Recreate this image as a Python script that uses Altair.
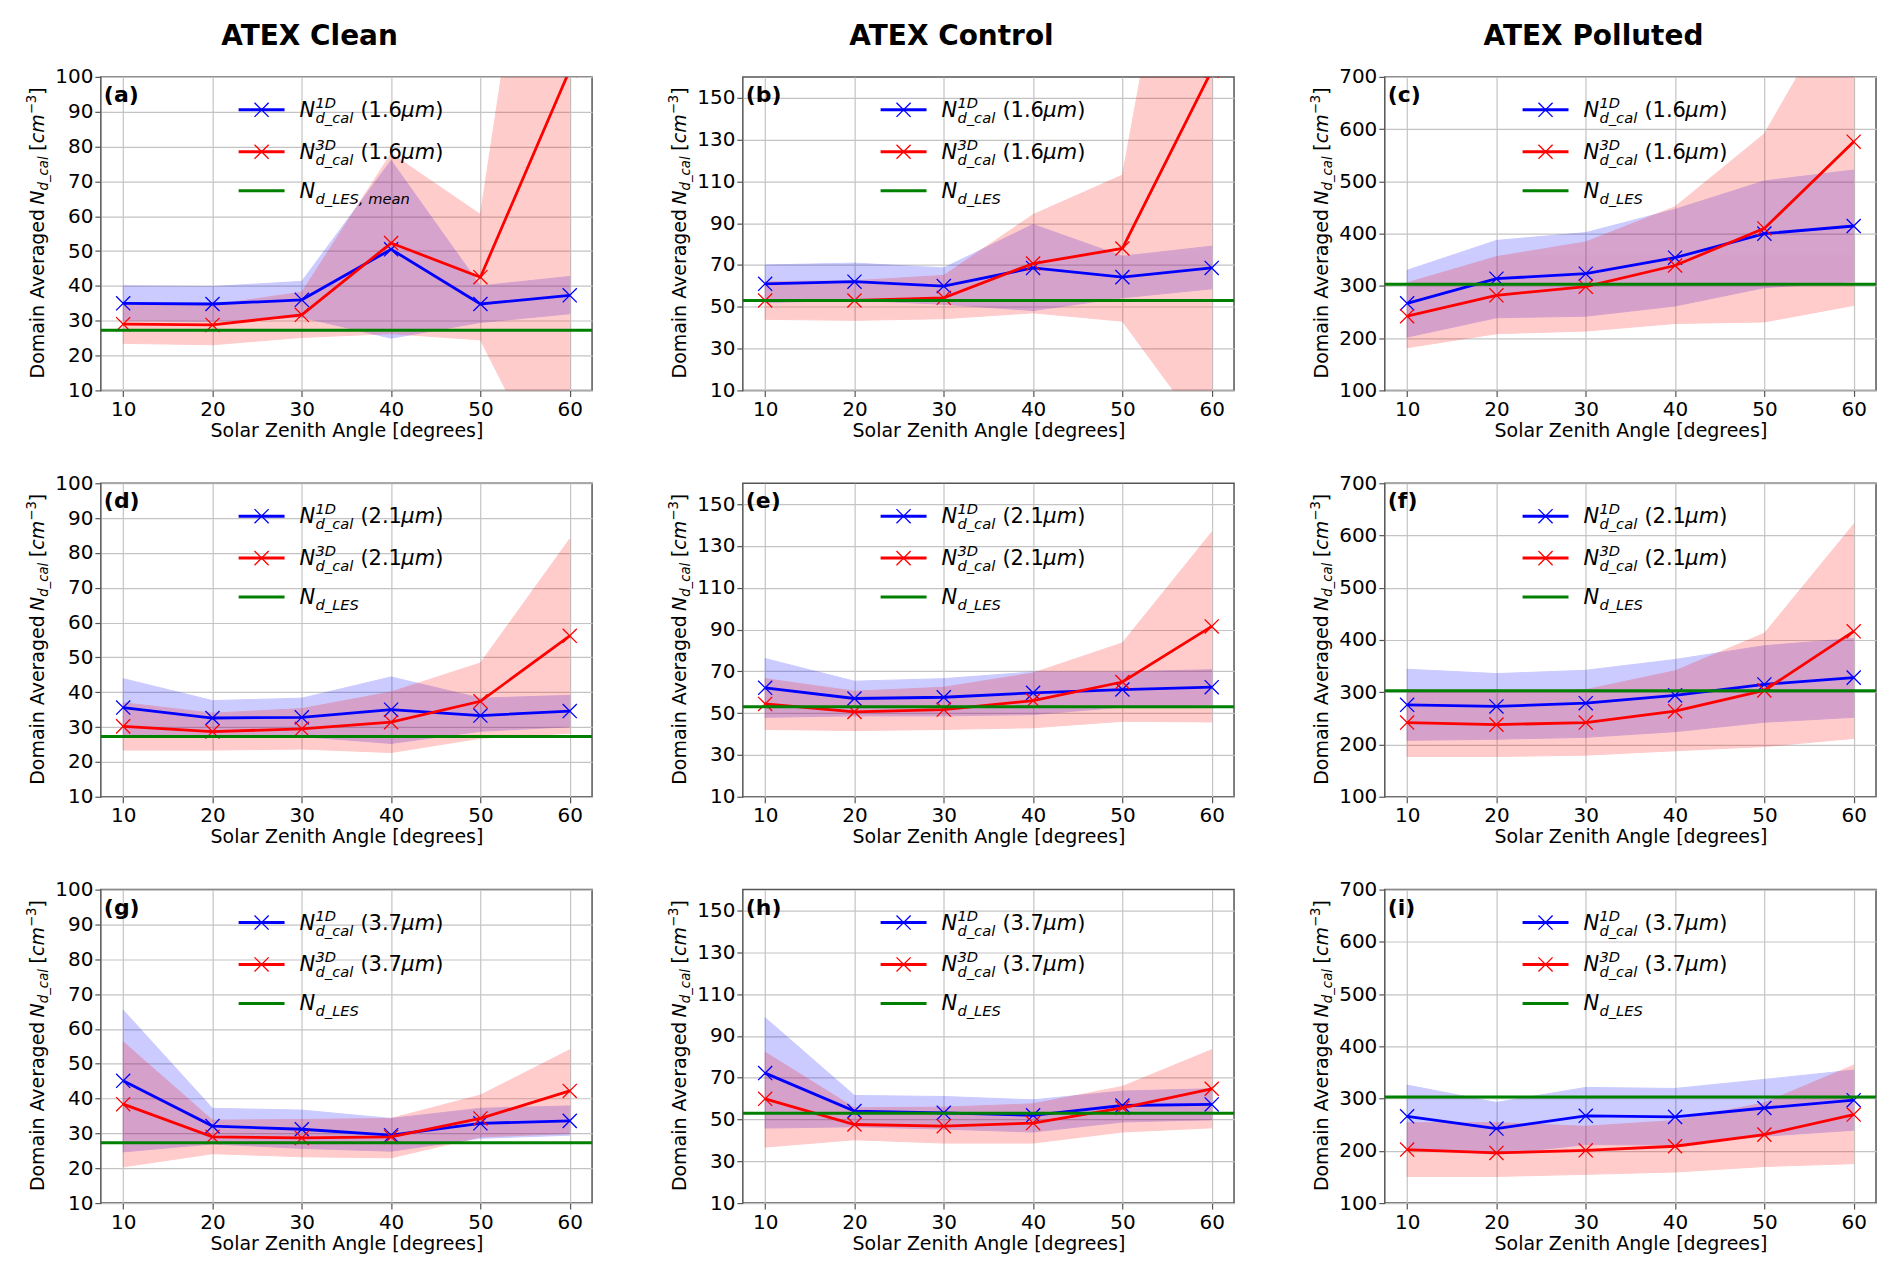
import altair as alt
import pandas as pd

FONT = "DejaVu Sans"
XPATH = "M-1,-1L1,1M-1,1L1,-1"

SZA = [10, 20, 30, 40, 50, 60]

CASES = ["Clean", "Control", "Polluted"]
WAVES = ["1.6", "2.1", "3.7"]
LETTERS = ["a", "b", "c", "d", "e", "f", "g", "h", "i"]

LES = {"Clean": 27.3, "Control": 53.0, "Polluted": 303.0}
Y_DOMAIN = {"Clean": [10, 100], "Control": [10, 160], "Polluted": [100, 700]}
Y_TICKS = {
    "Clean": [10, 20, 30, 40, 50, 60, 70, 80, 90, 100],
    "Control": [10, 30, 50, 70, 90, 110, 130, 150],
    "Polluted": [100, 200, 300, 400, 500, 600, 700],
}

# ATEX Clean, 1.6 um
c16_1d = [35.0, 34.8, 36.0, 50.5, 34.8, 37.3]
c16_1d_lo = [30.0, 29.8, 31.0, 25.0, 29.5, 32.0]
c16_1d_hi = [40.0, 39.8, 41.3, 76.0, 40.0, 42.7]
c16_3d = [29.0, 28.8, 31.7, 52.3, 42.5, 102.0]
c16_3d_lo = [23.5, 23.1, 25.2, 26.3, 24.5, -26.0]
c16_3d_hi = [34.5, 34.5, 38.2, 78.0, 60.5, 230.0]
# ATEX Control, 1.6 um
k16_1d = [61.0, 62.0, 59.9, 68.6, 64.2, 68.6]
k16_1d_lo = [52.0, 53.1, 51.2, 48.2, 54.3, 58.6]
k16_1d_hi = [70.0, 70.9, 68.6, 89.4, 74.2, 79.0]
k16_3d = [53.0, 53.0, 54.3, 70.7, 77.9, 163.0]
k16_3d_lo = [44.0, 43.5, 44.3, 47.1, 43.1, -15.0]
k16_3d_hi = [62.0, 62.5, 65.0, 94.1, 113.0, 345.0]
# ATEX Polluted, 1.6 um
p16_1d = [266.6, 313.8, 323.4, 354.0, 400.0, 414.6]
p16_1d_lo = [202.0, 239.0, 242.0, 261.5, 296.6, 308.0]
p16_1d_hi = [330.0, 387.0, 402.0, 446.5, 500.8, 521.8]
p16_3d = [242.0, 282.0, 298.5, 339.0, 410.0, 576.0]
p16_3d_lo = [181.7, 208.5, 213.6, 228.0, 231.0, 262.7]
p16_3d_hi = [306.0, 356.0, 384.0, 451.6, 591.0, 889.0]

# ATEX Clean, 2.1 um
c21_1d = [35.6, 32.6, 32.8, 35.0, 33.3, 34.6]
c21_1d_lo = [27.3, 27.6, 27.3, 25.3, 28.8, 30.1]
c21_1d_hi = [43.9, 37.6, 38.3, 44.4, 38.3, 39.1]
c21_3d = [30.2, 28.7, 29.5, 31.4, 37.4, 56.2]
c21_3d_lo = [23.4, 23.4, 23.7, 22.7, 26.8, 28.2]
c21_3d_hi = [37.0, 34.0, 35.3, 40.1, 48.4, 84.0]
# ATEX Control, 2.1 um
k21_1d = [62.1, 57.0, 57.6, 59.7, 61.3, 62.4]
k21_1d_lo = [48.0, 48.7, 48.7, 49.3, 52.9, 54.0]
k21_1d_hi = [76.1, 65.3, 66.5, 69.7, 69.7, 70.8]
k21_3d = [54.4, 50.6, 51.7, 56.0, 64.9, 91.5]
k21_3d_lo = [42.2, 41.7, 42.2, 43.0, 46.1, 45.8]
k21_3d_hi = [66.5, 60.5, 62.4, 69.2, 83.6, 136.6]
# ATEX Polluted, 2.1 um
p21_1d = [276.0, 272.8, 279.0, 294.0, 315.0, 328.0]
p21_1d_lo = [208.0, 210.0, 213.7, 224.6, 242.6, 252.0]
p21_1d_hi = [344.0, 335.7, 342.0, 362.7, 389.0, 403.0]
p21_3d = [242.0, 238.0, 242.0, 263.8, 303.6, 416.6]
p21_3d_lo = [177.0, 177.0, 179.6, 188.0, 196.0, 211.7]
p21_3d_hi = [305.0, 300.0, 305.0, 341.0, 412.8, 621.5]

# ATEX Clean, 3.7 um
c37_1d = [45.1, 32.1, 31.2, 29.5, 32.9, 33.6]
c37_1d_lo = [24.7, 27.0, 25.7, 24.9, 28.6, 29.5]
c37_1d_hi = [65.4, 37.2, 36.7, 34.3, 37.2, 37.9]
c37_3d = [38.4, 29.0, 28.7, 29.0, 34.3, 42.2]
c37_3d_lo = [20.4, 24.2, 23.3, 23.0, 29.0, 30.0]
c37_3d_hi = [56.3, 33.8, 34.0, 34.3, 41.0, 54.0]
# ATEX Control, 3.7 um
k37_1d = [72.2, 54.0, 53.2, 52.0, 56.7, 57.2]
k37_1d_lo = [45.9, 46.5, 45.4, 44.0, 48.8, 49.9]
k37_1d_hi = [98.7, 61.5, 61.0, 59.4, 63.6, 64.7]
k37_3d = [59.9, 47.6, 46.8, 48.3, 55.6, 64.7]
k37_3d_lo = [36.8, 40.3, 38.7, 38.7, 44.0, 46.0]
k37_3d_hi = [82.2, 55.6, 55.9, 57.5, 65.8, 83.4]
# ATEX Polluted, 3.7 um
p37_1d = [266.0, 242.7, 267.0, 265.0, 282.0, 297.0]
p37_1d_lo = [206.0, 193.0, 212.0, 211.0, 228.0, 239.5]
p37_1d_hi = [325.8, 292.6, 321.4, 319.4, 336.7, 354.6]
p37_3d = [202.4, 196.0, 201.0, 208.8, 231.0, 269.5]
p37_3d_lo = [151.0, 151.0, 155.0, 159.5, 170.0, 175.5]
p37_3d_hi = [253.8, 254.0, 247.0, 258.0, 292.0, 364.0]

SERIES = {
    ("1.6", "Clean"): (c16_1d, c16_1d_lo, c16_1d_hi, c16_3d, c16_3d_lo, c16_3d_hi),
    ("1.6", "Control"): (k16_1d, k16_1d_lo, k16_1d_hi, k16_3d, k16_3d_lo, k16_3d_hi),
    ("1.6", "Polluted"): (p16_1d, p16_1d_lo, p16_1d_hi, p16_3d, p16_3d_lo, p16_3d_hi),
    ("2.1", "Clean"): (c21_1d, c21_1d_lo, c21_1d_hi, c21_3d, c21_3d_lo, c21_3d_hi),
    ("2.1", "Control"): (k21_1d, k21_1d_lo, k21_1d_hi, k21_3d, k21_3d_lo, k21_3d_hi),
    ("2.1", "Polluted"): (p21_1d, p21_1d_lo, p21_1d_hi, p21_3d, p21_3d_lo, p21_3d_hi),
    ("3.7", "Clean"): (c37_1d, c37_1d_lo, c37_1d_hi, c37_3d, c37_3d_lo, c37_3d_hi),
    ("3.7", "Control"): (k37_1d, k37_1d_lo, k37_1d_hi, k37_3d, k37_3d_lo, k37_3d_hi),
    ("3.7", "Polluted"): (p37_1d, p37_1d_lo, p37_1d_hi, p37_3d, p37_3d_lo, p37_3d_hi),
}

W, H = 492, 314
MK = 200
ONE = pd.DataFrame({"k": [0]})


def piece(s, x, y, size, style="normal", weight="normal", angle=0, align="left"):
    return alt.Chart(ONE).mark_text(
        text=s, align=align, baseline="alphabetic", font=FONT, fontSize=size,
        fontStyle=style, fontWeight=weight, angle=angle, color="black"
    ).encode(x=alt.value(x), y=alt.value(y))


def make_panel(idx, wave, case, top_row):
    m1, lo1, hi1, m3, lo3, hi3 = SERIES[(wave, case)]
    df = pd.DataFrame({"sza": SZA, "m1": m1, "lo1": lo1, "hi1": hi1,
                       "m3": m3, "lo3": lo3, "hi3": hi3})
    xs = alt.X("sza:Q", scale=alt.Scale(domain=[7.5, 62.5], nice=False),
               axis=alt.Axis(values=SZA, title="Solar Zenith Angle [degrees]"))
    yscale = alt.Scale(domain=Y_DOMAIN[case], nice=False, zero=False)
    yaxis = alt.Axis(values=Y_TICKS[case], title=None, labelPadding=2)

    def Y(f):
        return alt.Y(f, type="quantitative", scale=yscale, axis=yaxis)

    base = alt.Chart(df)
    band1 = base.mark_area(color="blue", opacity=0.2, stroke="blue", strokeWidth=1, clip=True).encode(
        x=xs, y=Y("lo1"), y2="hi1")
    band3 = base.mark_area(color="red", opacity=0.2, stroke="red", strokeWidth=1, clip=True).encode(
        x=xs, y=Y("lo3"), y2="hi3")
    line1 = base.mark_line(color="blue", strokeWidth=2.8, clip=True).encode(x=xs, y=Y("m1"))
    pts1 = base.mark_point(shape=XPATH, size=MK, filled=False, color="blue", strokeWidth=1.3,
                           opacity=1, clip=True).encode(x=xs, y=Y("m1"))
    line3 = base.mark_line(color="red", strokeWidth=2.8, clip=True).encode(x=xs, y=Y("m3"))
    pts3 = base.mark_point(shape=XPATH, size=MK, filled=False, color="red", strokeWidth=1.3,
                           opacity=1, clip=True).encode(x=xs, y=Y("m3"))
    les = alt.Chart(pd.DataFrame({"les": [LES[case]]})).mark_rule(
        color="green", strokeWidth=3).encode(y=Y("les"))

    layers = [band1, band3, line1, pts1, line3, pts3, les]

    # legend
    for yc, col in [(33, "blue"), (75, "red"), (114, "green")]:
        layers.append(alt.Chart(ONE).mark_rule(color=col, strokeWidth=3).encode(
            x=alt.value(138), x2=alt.value(184), y=alt.value(yc)))
    for yc, col in [(33, "blue"), (75, "red")]:
        layers.append(alt.Chart(ONE).mark_point(
            shape=XPATH, size=MK, filled=False, color=col, strokeWidth=1.3, opacity=1
        ).encode(x=alt.value(161), y=alt.value(yc)))
    for yb, sup in [(40, "1D"), (82, "3D")]:
        layers += [
            piece("N", 199, yb, 21, "italic"),
            piece(sup, 215, yb - 9, 14.7, "italic"),
            piece("d_cal", 215, yb + 6, 14.7, "italic"),
            piece("(" + wave, 260, yb, 21),
            piece("μm", 301, yb, 21, "italic"),
            piece(")", 335, yb, 21),
        ]
    les_sub = "d_LES, mean" if idx == 0 else "d_LES"
    layers += [piece("N", 199, 121, 21, "italic"), piece(les_sub, 215, 127, 14.7, "italic")]

    # y axis title built from pieces (rotated)
    layers += [
        piece("Domain Averaged", -57, 302, 19, angle=270),
        piece("N", -57, 128, 19, "italic", angle=270),
        piece("d_cal", -53, 113.8, 13.3, "italic", angle=270),
        piece("[", -57, 74, 19, angle=270),
        piece("cm", -57, 66.5, 19, "italic", angle=270),
        piece("\u22123", -65, 37.5, 13.3, angle=270),
        piece("]", -57, 18, 19, angle=270),
    ]

    # panel letter
    layers.append(piece("(" + LETTERS[idx] + ")", 3, 25, 22, weight="bold"))
    if top_row:
        layers.append(piece("ATEX " + case, 209, -32, 28, weight="bold", align="center"))

    return alt.layer(*layers).properties(width=W, height=H)


panels = []
i = 0
for r, wave in enumerate(WAVES):
    for case in CASES:
        panels.append(make_panel(i, wave, case, r == 0))
        i += 1

chart = alt.concat(
    *panels, columns=3, spacing={"row": 93, "column": 151}, bounds="flush"
).resolve_scale(
    x="independent", y="independent"
).properties(
    padding={"left": 16, "top": 13, "right": 5, "bottom": 5},
    background="white"
).configure_view(
    stroke="#555555", strokeWidth=1.5
).configure_axis(
    grid=True, gridColor="#c4c4c4", gridWidth=1.2, domain=False,
    ticks=True, tickColor="#555555", tickSize=6, tickWidth=1.2,
    labelFont=FONT, labelFontSize=20, labelColor="black", labelPadding=3,
    labelOverlap=False, labelFlush=False,
    titleFont=FONT, titleFontSize=19, titleFontWeight="normal", titleColor="black",
    titlePadding=2
)

chart.save("out.html", embed_options={"renderer": "svg", "actions": False})
